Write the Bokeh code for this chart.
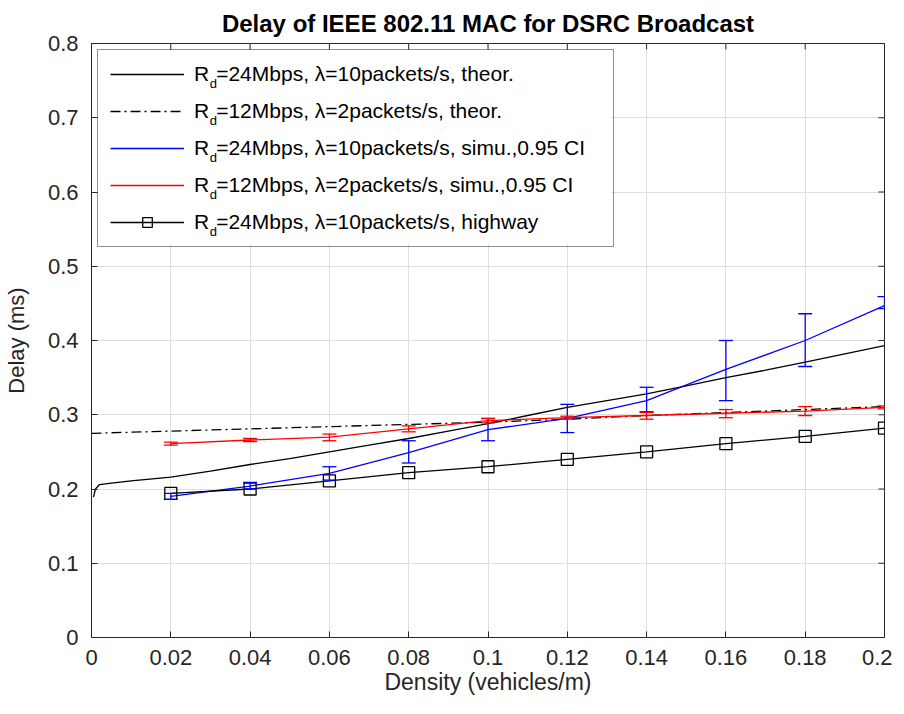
import math
from bokeh.plotting import figure
from bokeh.models import (ColumnDataSource, Whisker, TeeHead, Legend, LegendItem,
                          FixedTicker, Range1d)
from bokeh.core.properties import value
from bokeh.embed import file_html
from bokeh.resources import INLINE

# ---------------- data ----------------
x_ticks = [0, 0.02, 0.04, 0.06, 0.08, 0.1, 0.12, 0.14, 0.16, 0.18, 0.2]
x_tick_labels = ["0", "0.02", "0.04", "0.06", "0.08", "0.1", "0.12", "0.14", "0.16", "0.18", "0.2"]
y_ticks = [0, 0.1, 0.2, 0.3, 0.4, 0.5, 0.6, 0.7, 0.8]
y_tick_labels = ["0", "0.1", "0.2", "0.3", "0.4", "0.5", "0.6", "0.7", "0.8"]

theor24_x = [0.0005, 0.001, 0.002, 0.005, 0.01, 0.02, 0.03, 0.04, 0.05, 0.06, 0.07, 0.08,
             0.09, 0.1, 0.11, 0.12, 0.13, 0.14, 0.15, 0.16, 0.17, 0.18, 0.19, 0.2]
theor24_y = [0.189, 0.200, 0.206, 0.208, 0.211, 0.216, 0.224, 0.233, 0.241, 0.250, 0.259, 0.268,
             0.278, 0.288, 0.299, 0.310, 0.319, 0.328, 0.339, 0.350, 0.360, 0.371, 0.382, 0.393]

theor12_x = [0, 0.02, 0.04, 0.06, 0.08, 0.1, 0.12, 0.14, 0.16, 0.18, 0.2]
theor12_y = [0.275, 0.278, 0.281, 0.284, 0.287, 0.290, 0.294, 0.299, 0.303, 0.307, 0.311]

density = [0.02, 0.04, 0.06, 0.08, 0.1, 0.12, 0.14, 0.16, 0.18, 0.2]

simu24_mean = [0.190, 0.204, 0.221, 0.249, 0.280, 0.295, 0.319, 0.361, 0.400, 0.447]
simu24_lower = [0.186, 0.200, 0.212, 0.235, 0.265, 0.276, 0.304, 0.319, 0.365, 0.443]
simu24_upper = [0.194, 0.209, 0.230, 0.265, 0.295, 0.314, 0.337, 0.400, 0.436, 0.459]

simu12_mean = [0.261, 0.266, 0.270, 0.281, 0.292, 0.296, 0.299, 0.302, 0.305, 0.310]
simu12_lower = [0.259, 0.264, 0.265, 0.277, 0.289, 0.294, 0.294, 0.296, 0.299, 0.308]
simu12_upper = [0.263, 0.268, 0.274, 0.285, 0.295, 0.298, 0.303, 0.307, 0.311, 0.312]

highway_y = [0.194, 0.200, 0.211, 0.222, 0.230, 0.240, 0.250, 0.261, 0.271, 0.282]

legend_labels = [
    "R\u2004=24Mbps, \u03bb=10packets/s, theor.",
    "R\u2004=12Mbps, \u03bb=2packets/s, theor.",
    "R\u2004=24Mbps, \u03bb=10packets/s, simu.,0.95 CI",
    "R\u2004=12Mbps, \u03bb=2packets/s, simu.,0.95 CI",
    "R\u2004=24Mbps, \u03bb=10packets/s, highway",
]
subscript = "d"

title_text = "Delay of IEEE 802.11 MAC for DSRC Broadcast"
x_label = "Density (vehicles/m)"
y_label = "Delay (ms)"

# ---------------- style / layout ----------------
FONT = "Liberation Sans"
INK = "#262626"
GRID = "#dedede"
LW = 1.3
LEG_FS = 21
FRAME_W, FRAME_H = 793, 594
X0, X1, Y0, Y1 = 0, 0.2, 0, 0.8

# legend geometry (pixels)
LEG_MARGIN, LEG_PAD, LEG_ROW_H, LEG_SPACING = 6, 12, 24, 13
LEG_GLYPH_W, LEG_STANDOFF, LEG_LABEL_W = 74, 10, 407
LEG_W = 2 * LEG_PAD + LEG_GLYPH_W + LEG_STANDOFF + LEG_LABEL_W
LEG_H = 2 * LEG_PAD + len(legend_labels) * LEG_ROW_H + (len(legend_labels) - 1) * LEG_SPACING


def px_x(dx):
    """data x at dx pixels right of the frame's left edge"""
    return X0 + dx / FRAME_W * (X1 - X0)


def px_y(dy):
    """data y at dy pixels below the frame's top edge"""
    return Y1 - dy / FRAME_H * (Y1 - Y0)


p = figure(frame_width=FRAME_W, frame_height=FRAME_H,
           x_range=Range1d(X0, X1), y_range=Range1d(Y0, Y1),
           output_backend="svg", toolbar_location=None,
           min_border_left=85, min_border_right=8, min_border_top=35, min_border_bottom=60,
           title=title_text, background_fill_color="white", border_fill_color="white")

p.title.text_font = FONT
p.title.text_font_size = "24px"
p.title.text_font_style = "bold"
p.title.text_color = "black"
p.title.align = "center"
p.title.standoff = 14

p.outline_line_color = INK
p.outline_line_width = 1

for ax, ticks, labels in ((p.xaxis[0], x_ticks, x_tick_labels), (p.yaxis[0], y_ticks, y_tick_labels)):
    ax.ticker = FixedTicker(ticks=ticks)
    ax.major_label_overrides = {t: l for t, l in zip(ticks, labels)}
    ax.major_tick_in = 6
    ax.major_tick_out = 0
    ax.minor_tick_line_color = None
    ax.axis_line_color = INK
    ax.major_tick_line_color = INK
    ax.major_label_text_font = FONT
    ax.major_label_text_font_size = "22px"
    ax.major_label_text_color = INK
    ax.axis_label_text_font = FONT
    ax.axis_label_text_font_style = "normal"
    ax.axis_label_text_color = INK

p.xaxis.axis_label = x_label
p.xaxis.axis_label_text_font_size = "23px"
p.xaxis.major_label_standoff = 12
p.xaxis.axis_label_standoff = 1
p.yaxis.axis_label = y_label
p.yaxis.axis_label_text_font_size = "22px"
p.yaxis.major_label_standoff = 13
p.yaxis.axis_label_standoff = 16

p.xgrid.ticker = FixedTicker(ticks=x_ticks)
p.ygrid.ticker = FixedTicker(ticks=y_ticks)
p.xgrid.grid_line_color = GRID
p.ygrid.grid_line_color = GRID

# tick marks on the top and right edges of the box (6 px, pointing inward)
p.ray(x=x_ticks, y=[Y1] * len(x_ticks), length=6, length_units="screen",
      angle=-math.pi / 2, line_color=INK, line_width=1)
p.ray(x=[X1] * len(y_ticks), y=y_ticks, length=6, length_units="screen",
      angle=math.pi, line_color=INK, line_width=1)

# opaque white backing for the (transparent) legend box, so grid lines stay hidden
p.quad(left=px_x(LEG_MARGIN + 1), right=px_x(LEG_MARGIN + LEG_W - 1),
       top=px_y(LEG_MARGIN + 1), bottom=px_y(LEG_MARGIN + LEG_H - 1),
       fill_color="white", line_color=None)

# subscript "d" of R_d in each legend entry (right after the "R")
sub_dx = LEG_MARGIN + LEG_PAD + LEG_GLYPH_W + LEG_STANDOFF + 1 + 0.722 * LEG_FS
sub_dy = [LEG_MARGIN + LEG_PAD + LEG_ROW_H / 2 + 10 + (LEG_ROW_H + LEG_SPACING) * i
          for i in range(len(legend_labels))]
p.text(x=[px_x(sub_dx)] * len(sub_dy), y=[px_y(d) for d in sub_dy],
       text=[subscript] * len(sub_dy),
       text_font=value(FONT), text_font_size="13px", text_color="black",
       text_baseline="middle", text_align="left")

# ---------------- data glyphs ----------------
r1 = p.line(theor24_x, theor24_y, line_color="black", line_width=LW)
r2 = p.line(theor12_x, theor12_y, line_color="black", line_width=LW, line_dash="10 4 2 4")

r3 = p.line(density, simu24_mean, line_color="blue", line_width=LW)
src24 = ColumnDataSource(dict(x=density, lower=simu24_lower, upper=simu24_upper))
p.add_layout(Whisker(source=src24, base="x", lower="lower", upper="upper",
                     line_color="blue", line_width=LW, level="glyph",
                     upper_head=TeeHead(size=14, line_color="blue", line_width=LW),
                     lower_head=TeeHead(size=14, line_color="blue", line_width=LW)))

r4 = p.line(density, simu12_mean, line_color="red", line_width=LW)
src12 = ColumnDataSource(dict(x=density, lower=simu12_lower, upper=simu12_upper))
p.add_layout(Whisker(source=src12, base="x", lower="lower", upper="upper",
                     line_color="red", line_width=LW, level="glyph",
                     upper_head=TeeHead(size=14, line_color="red", line_width=LW),
                     lower_head=TeeHead(size=14, line_color="red", line_width=LW)))

r5 = p.line(density, highway_y, line_color="black", line_width=LW)
r6 = p.scatter(density, highway_y, marker="square", size=12, fill_color=None,
               line_color="black", line_width=LW)

# ---------------- legend ----------------
items = [LegendItem(label=legend_labels[0], renderers=[r1]),
         LegendItem(label=legend_labels[1], renderers=[r2]),
         LegendItem(label=legend_labels[2], renderers=[r3]),
         LegendItem(label=legend_labels[3], renderers=[r4]),
         LegendItem(label=legend_labels[4], renderers=[r5, r6])]
legend = Legend(items=items, location="top_left", margin=LEG_MARGIN, padding=LEG_PAD,
                spacing=LEG_SPACING, label_height=LEG_ROW_H, glyph_height=LEG_ROW_H,
                glyph_width=LEG_GLYPH_W, label_standoff=LEG_STANDOFF, label_width=LEG_LABEL_W,
                label_text_font=FONT, label_text_font_size=f"{LEG_FS}px",
                label_text_color="black", border_line_color=INK, border_line_width=1,
                background_fill_alpha=0.0)
p.add_layout(legend)

open("out.html", "w").write(file_html(p, INLINE))
